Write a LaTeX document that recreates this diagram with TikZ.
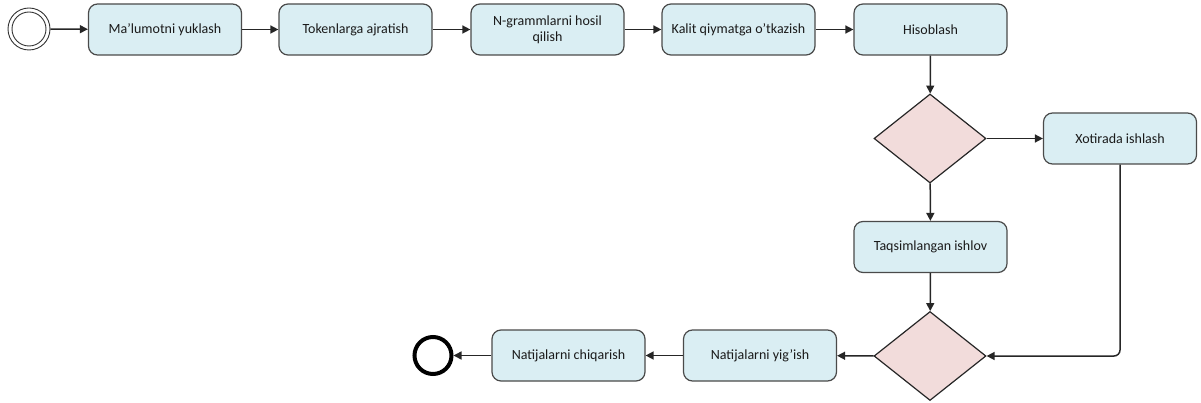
\documentclass[tikz,border=0pt]{standalone}
\usepackage{fontspec}
\setmainfont{Carlito}
\usetikzlibrary{arrows.meta,shapes.geometric}
\definecolor{boxfill}{HTML}{DAEEF3}
\definecolor{boxline}{HTML}{4A4A4A}
\definecolor{dfill}{HTML}{F2DCDB}
\definecolor{txt}{HTML}{1A1A1A}
\tikzset{
  task/.style={draw=boxline, line width=1.2pt, fill=boxfill, rounded corners=9pt,
    minimum width=153pt, minimum height=51pt, inner sep=2pt, align=center,
    text=txt, font=\fontsize{14}{16}\selectfont},
  gate/.style={draw=black!85, line width=1.2pt, fill=dfill, diamond,
    minimum width=112pt, minimum height=89pt, inner sep=0pt},
  arr/.style={line width=1.5pt, draw=black!85, -{Triangle[length=8pt,width=8pt]}},
}
\begin{document}
\begin{tikzpicture}[x=1pt,y=-1pt]
\useasboundingbox (0,0) rectangle (1201,403);
% start event
\node[circle, draw=black!80, line width=0.9pt, minimum size=42pt, inner sep=0pt] (start) at (29,29) {};
\node[circle, draw=black!80, line width=0.9pt, minimum size=34pt, inner sep=0pt] (startin) at (29,29) {};
% top row
\node[task] (b1) at (165,29.5) {Ma’lumotni yuklash};
\node[task] (b2) at (355.5,29.5) {Tokenlarga ajratish};
\node[task] (b3) at (547.5,29.5) {N-grammlarni hosil\\qilish};
\node[task] (b4) at (738.5,29.5) {Kalit qiymatga o’tkazish};
\node[task] (b5) at (930.5,29.5) {Hisoblash};
% gateway 1
\node[gate] (d1) at (930,138.5) {};
\node[task] (xot) at (1120,138.5) {Xotirada ishlash};
\node[task] (taq) at (930.5,247) {Taqsimlangan ishlov};
% gateway 2
\node[gate] (d2) at (930,356) {};
\node[task] (yig) at (760,355.5) {Natijalarni yig’ish};
\node[task] (chi) at (568.5,355.5) {Natijalarni chiqarish};
% end event
\node[circle, draw=black, line width=4pt, minimum size=37pt, inner sep=0pt] (end) at (433,355.5) {};
% connectors
\draw[arr] (start) -- (b1);
\draw[arr] (b1) -- (b2);
\draw[arr] (b2) -- (b3);
\draw[arr] (b3) -- (b4);
\draw[arr] (b4) -- (b5);
\draw[arr] (b5) -- (d1);
\draw[arr] (d1) -- (xot);
\draw[arr] (d1) -- (taq);
\draw[arr] (taq) -- (d2);
\draw[arr, rounded corners=6pt] (xot.south) |- (d2.east);
\draw[arr] (d2) -- (yig);
\draw[arr] (yig) -- (chi);
\draw[arr] (chi) -- (end);
\end{tikzpicture}
\end{document}
